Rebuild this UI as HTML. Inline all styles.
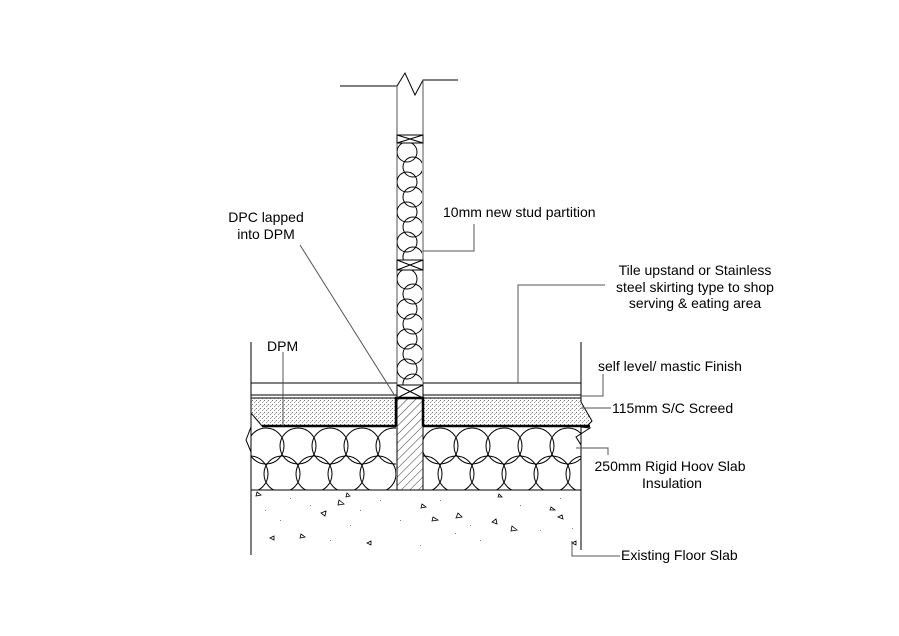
<!DOCTYPE html>
<html><head><meta charset="utf-8"><style>
html,body{margin:0;padding:0;background:#fff;}
svg{display:block;}
text{font-family:"Liberation Sans",Arial,sans-serif;font-size:14px;fill:#000;}
</style></head><body>
<svg width="899" height="636" viewBox="0 0 899 636" xmlns="http://www.w3.org/2000/svg">
<defs>
<pattern id="dots" width="4" height="4" patternUnits="userSpaceOnUse">
<rect width="4" height="4" fill="#fff"/>
<rect x="0" y="0" width="1" height="1" fill="#777"/>
<rect x="2" y="2" width="1" height="1" fill="#999"/>
<rect x="3" y="1" width="1" height="1" fill="#bbb"/>
</pattern>
<pattern id="hatch" width="6" height="6" patternUnits="userSpaceOnUse" patternTransform="rotate(45)">
<rect width="6" height="6" fill="#fff"/>
<line x1="0" y1="0" x2="0" y2="6" stroke="#000" stroke-width="0.8"/>
</pattern>
<clipPath id="insL"><rect x="251" y="427" width="145" height="63"/></clipPath>
<clipPath id="insR"><rect x="423" y="427" width="158" height="63"/></clipPath>
<clipPath id="stud1"><rect x="397" y="143" width="25" height="117"/></clipPath>
<clipPath id="stud2"><rect x="397" y="270" width="25" height="115"/></clipPath>
</defs>
<g fill="none" stroke="#000" stroke-width="1">
<polyline points="340,86 397,86 405,73 415,95 423,80 458,80"/>
<line x1="397" y1="86" x2="397" y2="398" stroke="#555"/>
<line x1="423" y1="80" x2="423" y2="398" stroke="#555"/>
<rect x="397" y="135" width="26" height="8"/><path d="M397,135 L423,143 M423,135 L397,143"/>
<rect x="397" y="260" width="26" height="10"/><path d="M397,260 L423,270 M423,260 L397,270"/>
<rect x="397" y="385" width="26" height="13"/><path d="M397,385 L423,398 M423,385 L397,398"/>
<g clip-path="url(#stud1)">
<circle cx="407" cy="152" r="10"/><circle cx="413" cy="167" r="10"/><circle cx="407" cy="182" r="10"/><circle cx="413" cy="197" r="10"/><circle cx="407" cy="212" r="10"/><circle cx="413" cy="227" r="10"/><circle cx="407" cy="242" r="10"/><circle cx="413" cy="257" r="10"/>
</g>
<g clip-path="url(#stud2)">
<circle cx="407" cy="279" r="10"/><circle cx="413" cy="294" r="10"/><circle cx="407" cy="309" r="10"/><circle cx="413" cy="324" r="10"/><circle cx="407" cy="339" r="10"/><circle cx="413" cy="354" r="10"/><circle cx="407" cy="369" r="10"/><circle cx="413" cy="384" r="10"/>
</g>
<line x1="251" y1="342" x2="251" y2="555"/>
<line x1="581" y1="342" x2="581" y2="550"/>
<line x1="251" y1="383" x2="397" y2="383"/><line x1="423" y1="383" x2="581" y2="383"/>
<line x1="251" y1="395" x2="397" y2="395"/><line x1="423" y1="395" x2="581" y2="395"/>
</g>
<path d="M251,398 L396,398 L396,426 L262,426 L251,413 Z" fill="url(#dots)" stroke="#000"/>
<path d="M423,398 L581,398 L581,402 L592,421 L587,426 L423,426 Z" fill="url(#dots)" stroke="#000"/>
<rect x="397" y="398" width="26" height="92" fill="url(#hatch)" stroke="#000"/>
<path d="M396,426 L396,398 L423,398 L423,426" fill="none" stroke="#000" stroke-width="2.5"/>
<line x1="262" y1="426" x2="396" y2="426" stroke="#000" stroke-width="2.5"/>
<line x1="423" y1="426" x2="590" y2="426" stroke="#000" stroke-width="2.5"/>
<g fill="none" stroke="#000">
<path d="M251,427 L246,440 L251,452"/>
<path d="M581,427 L590,428 L576,437 L581,445"/>
<g clip-path="url(#insL)">
<circle cx="266" cy="446" r="18"/><circle cx="298" cy="446" r="18"/><circle cx="330" cy="446" r="18"/><circle cx="362" cy="446" r="18"/><circle cx="394" cy="446" r="18"/>
<circle cx="282" cy="474" r="18"/><circle cx="314" cy="474" r="18"/><circle cx="346" cy="474" r="18"/><circle cx="378" cy="474" r="18"/><circle cx="250" cy="474" r="18"/>
</g>
<g clip-path="url(#insR)">
<circle cx="440" cy="446" r="18"/><circle cx="472" cy="446" r="18"/><circle cx="504" cy="446" r="18"/><circle cx="536" cy="446" r="18"/><circle cx="568" cy="446" r="18"/>
<circle cx="456" cy="474" r="18"/><circle cx="488" cy="474" r="18"/><circle cx="520" cy="474" r="18"/><circle cx="552" cy="474" r="18"/><circle cx="584" cy="474" r="18"/><circle cx="424" cy="474" r="18"/>
</g>
<line x1="251" y1="490" x2="581" y2="490"/>
</g>
<g fill="none" stroke="#000" stroke-width="0.8">
<path d="M257,492 l4,3 -5,1z M347,493 l3,3 -4,1z M339,500 l5,4 -6,1z M326,511 l-5,2 4,3z M422,504 l4,3 -5,1z M458,513 l4,4 -6,1z M433,517 l5,3 -6,1z M496,519 l-4,3 5,2z M512,526 l5,4 -6,1z M551,507 l4,3 -5,0z M499,494 l3,3 -4,0z M301,534 l4,3 -5,1z M274,536 l-4,2 4,2z M371,541 l-4,2 4,2z M562,515 l-4,2 5,2z M576,541 l-4,2 4,2z"/>
</g>
<g fill="#888">
<rect x="290" y="498" width="1" height="1"/><rect x="310" y="505" width="1" height="1"/><rect x="280" y="520" width="1" height="1"/><rect x="360" y="510" width="1" height="1"/><rect x="380" y="500" width="1" height="1"/><rect x="400" y="520" width="1" height="1"/><rect x="440" y="500" width="1" height="1"/><rect x="470" y="525" width="1" height="1"/><rect x="520" y="505" width="1" height="1"/><rect x="540" y="530" width="1" height="1"/><rect x="560" y="498" width="1" height="1"/><rect x="330" y="540" width="1" height="1"/><rect x="420" y="545" width="1" height="1"/><rect x="480" y="540" width="1" height="1"/><rect x="265" y="510" width="1" height="1"/><rect x="572" y="528" width="1" height="1"/><rect x="350" y="525" width="1" height="1"/><rect x="455" y="533" width="1" height="1"/>
</g>
<g fill="none" stroke="#555" stroke-width="1">
<line x1="300" y1="245" x2="395" y2="396"/>
<polyline points="474,224 474,251 423,251"/>
<polyline points="605,285 518,285 518,383"/>
<line x1="283" y1="352" x2="283" y2="426"/>
<polyline points="603,374 603,396 581,396"/>
<line x1="581" y1="408" x2="611" y2="408"/>
<polyline points="576,448 608,448 608,455"/>
<polyline points="572,541 572,556 620,556"/>
</g>
<text x="266" y="222" text-anchor="middle">DPC lapped</text>
<text x="266" y="239" text-anchor="middle">into DPM</text>
<text x="443" y="217">10mm new stud partition</text>
<text x="695" y="275" text-anchor="middle">Tile upstand or Stainless</text>
<text x="695" y="292" text-anchor="middle">steel skirting type to shop</text>
<text x="695" y="308" text-anchor="middle">serving &amp; eating area</text>
<text x="267" y="351">DPM</text>
<text x="598" y="371">self level/ mastic Finish</text>
<text x="612" y="413">115mm S/C Screed</text>
<text x="670" y="471" text-anchor="middle">250mm Rigid Hoov Slab</text>
<text x="672" y="488" text-anchor="middle">Insulation</text>
<text x="621" y="560">Existing Floor Slab</text>
</svg>
</body></html>
